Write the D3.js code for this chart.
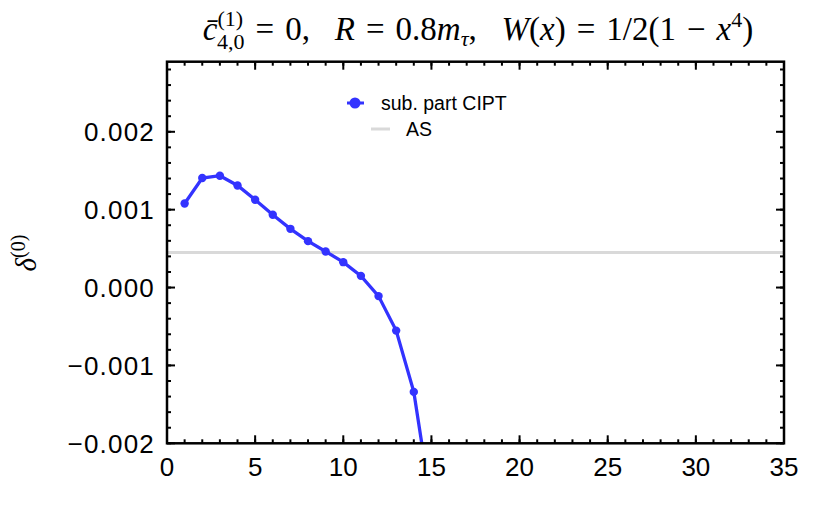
<!DOCTYPE html>
<meta charset="utf-8">
<style>
body { margin: 0; background: #fff; }
text { font-family: "Liberation Sans", Arial, sans-serif; fill: #000; }
.math { font-family: "Liberation Serif", "DejaVu Serif", serif; }
</style>
<body>
<script src="https://cdn.jsdelivr.net/npm/d3@7"></script>
<script>

// data
var orders = [1, 2, 3, 4, 5, 6, 7, 8, 9, 10, 11, 12, 13, 14, 15];
var cipt = [0.00108, 0.001406, 0.001436, 0.001311, 0.001127, 0.000934, 0.000754,
            0.000596, 0.000463, 0.000326, 0.00015, -0.00011, -0.000553, -0.00134, -0.0028];
var asValue = 0.00045;
var xTicks = [0, 5, 10, 15, 20, 25, 30, 35];
var yTicks = [-0.002, -0.001, 0.000, 0.001, 0.002];
var yTickLabels = ["\u22120.002", "\u22120.001", "0.000", "0.001", "0.002"];

var W = 830, H = 531;
var margin = {top: 61.7, right: 46, bottom: 87.7, left: 167};
var width = W - margin.left - margin.right,
    height = H - margin.top - margin.bottom;

var x = d3.scaleLinear().domain([0, 35]).range([0, width]);
var y = d3.scaleLinear().domain([-0.002, 0.0029]).range([height, 0]);

var svg = d3.select("body").append("svg")
    .attr("width", W)
    .attr("height", H);

svg.append("defs").append("clipPath").attr("id", "clip")
  .append("rect").attr("width", width).attr("height", height);

var g = svg.append("g")
    .attr("transform", "translate(" + margin.left + "," + margin.top + ")");

// AS reference line
g.append("line")
    .attr("x1", 0).attr("x2", width)
    .attr("y1", y(asValue)).attr("y2", y(asValue))
    .attr("stroke", "#d9d9d9")
    .attr("stroke-width", 3);

// series
var pts = orders.map(function(d, i) { return {x: d, y: cipt[i]}; });
var line = d3.line().x(function(d) { return x(d.x); }).y(function(d) { return y(d.y); });

var plot = g.append("g").attr("clip-path", "url(#clip)");
plot.append("path")
    .datum(pts)
    .attr("d", line)
    .attr("fill", "none")
    .attr("stroke", "#3333ff")
    .attr("stroke-width", 3.3);

plot.selectAll(".dot")
    .data(pts).enter()
    .append("circle")
    .attr("class", "dot")
    .attr("cx", function(d) { return x(d.x); })
    .attr("cy", function(d) { return y(d.y); })
    .attr("r", 4.2)
    .attr("fill", "#3333ff");

// ticks, inward on all four sides
var xMinor = d3.range(0, 36, 1);
var yMinor = d3.range(-0.002, 0.00291, 0.0002);

function tickLines(sel, vals, scale, horizontal, len, pos, dir) {
  sel.selectAll(null).data(vals).enter().append("line")
    .attr("x1", function(d) { return horizontal ? scale(d) : pos; })
    .attr("x2", function(d) { return horizontal ? scale(d) : pos + dir * len; })
    .attr("y1", function(d) { return horizontal ? pos : scale(d); })
    .attr("y2", function(d) { return horizontal ? pos + dir * len : scale(d); })
    .attr("stroke", "#000")
    .attr("stroke-width", 2);
}
var ticks = g.append("g");
tickLines(ticks, xMinor, x, true, 4, height, -1);
tickLines(ticks, xMinor, x, true, 4, 0, 1);
tickLines(ticks, xTicks, x, true, 8, height, -1);
tickLines(ticks, xTicks, x, true, 8, 0, 1);
tickLines(ticks, yMinor, y, false, 4, 0, 1);
tickLines(ticks, yMinor, y, false, 4, width, -1);
tickLines(ticks, yTicks, y, false, 8, 0, 1);
tickLines(ticks, yTicks, y, false, 8, width, -1);

// frame
g.append("rect")
    .attr("width", width).attr("height", height)
    .attr("fill", "none")
    .attr("stroke", "#000")
    .attr("stroke-width", 2.5);

// tick labels
g.selectAll(".xl").data(xTicks).enter().append("text")
    .attr("x", function(d) { return x(d); })
    .attr("y", height + 33)
    .attr("text-anchor", "middle")
    .style("font-size", "26px")
    .text(function(d) { return d; });

g.selectAll(".yl").data(yTicks).enter().append("text")
    .attr("x", -12)
    .attr("y", function(d) { return y(d) + 9.5; })
    .attr("text-anchor", "end")
    .style("font-size", "26px")
    .style("letter-spacing", "1.2px")
    .text(function(d, i) { return yTickLabels[i]; });

// y label
var yl = svg.append("text")
    .attr("class", "math")
    .attr("transform", "translate(36,253) rotate(-90)")
    .attr("text-anchor", "middle")
    .style("font-size", "29px");
yl.append("tspan").style("font-style", "italic").text("\u03b4");
yl.append("tspan").attr("dy", -11).style("font-size", "20px").text("(0)");

// title
var sp = "\u2004";
var t = svg.append("text")
    .attr("class", "math")
    .attr("x", 478).attr("y", 40)
    .attr("text-anchor", "middle")
    .style("font-size", "33px");
t.append("tspan").style("font-style", "italic").text("c\u0304");
t.append("tspan").attr("dy", -14).style("font-size", "22px").text("(1)");
t.append("tspan").attr("dx", -26).attr("dy", 23).style("font-size", "22px").text("4,0");
t.append("tspan").attr("dy", -9).text(sp + "=" + sp + "0,\u2002 ");
t.append("tspan").style("font-style", "italic").text("R");
t.append("tspan").text(sp + "=" + sp + "0.8");
t.append("tspan").style("font-style", "italic").text("m");
t.append("tspan").attr("dy", 6).style("font-size", "22px").style("font-style", "italic").text("\u03c4");
t.append("tspan").attr("dy", -6).text(",\u2002 ");
t.append("tspan").style("font-style", "italic").text("W");
t.append("tspan").text("(");
t.append("tspan").style("font-style", "italic").text("x");
t.append("tspan").text(")" + sp + "=" + sp + "1/2(1" + sp + "\u2212" + sp);
t.append("tspan").style("font-style", "italic").text("x");
t.append("tspan").attr("dy", -13).style("font-size", "22px").text("4");
t.append("tspan").attr("dy", 13).text(")");

// legend
var lg = svg.append("g");
lg.append("line")
    .attr("x1", 347).attr("x2", 364).attr("y1", 103).attr("y2", 103)
    .attr("stroke", "#3333ff").attr("stroke-width", 3);
lg.append("circle").attr("cx", 355).attr("cy", 103).attr("r", 5.5).attr("fill", "#3333ff");
lg.append("text").attr("x", 381).attr("y", 110).style("font-size", "19.5px").text("sub. part CIPT");
lg.append("line")
    .attr("x1", 371).attr("x2", 390).attr("y1", 129).attr("y2", 129)
    .attr("stroke", "#d9d9d9").attr("stroke-width", 3);
lg.append("text").attr("x", 406).attr("y", 136).style("font-size", "19.5px").text("AS");

</script>
</body>
